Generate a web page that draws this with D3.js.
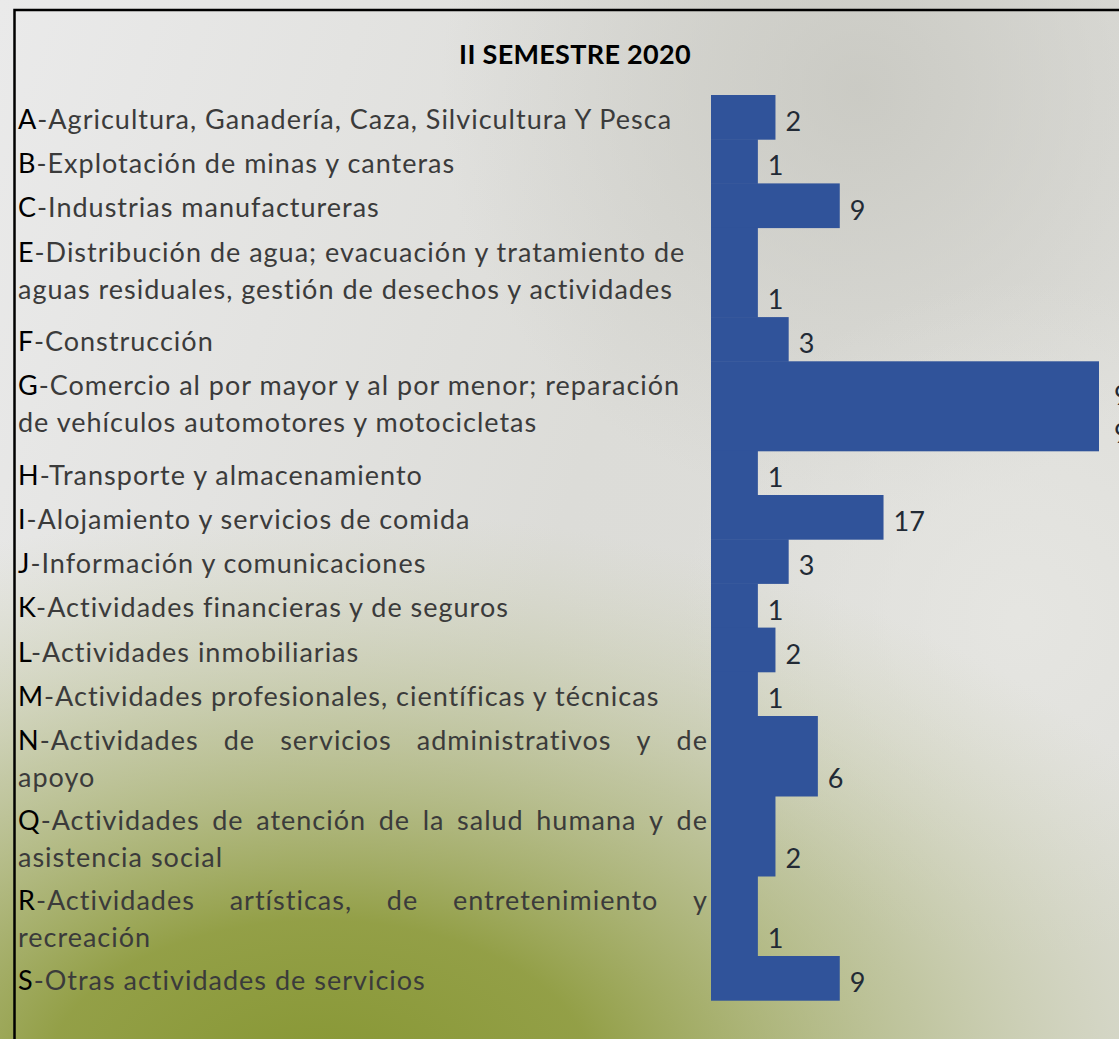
<!DOCTYPE html>
<html>
<head>
<meta charset="utf-8">
<script src="https://cdn.jsdelivr.net/npm/d3@7"></script>
<style>
  body { margin: 0; }
  svg { display: block; }
</style>
</head>
<body>
<svg id="chart" width="1119" height="1039"></svg>
<script>
var title = "II SEMESTRE 2020";

var codes = ["A", "B", "C", "E", "F", "G", "H", "I", "J", "K", "L", "M", "N", "Q", "R", "S"];

var names = [
  ["Agricultura, Ganadería, Caza, Silvicultura Y Pesca"],
  ["Explotación de minas y canteras"],
  ["Industrias manufactureras"],
  ["Distribución de agua; evacuación y tratamiento de", "aguas residuales, gestión de desechos y actividades"],
  ["Construcción"],
  ["Comercio al por mayor y al por menor; reparación", "de vehículos automotores y motocicletas"],
  ["Transporte y almacenamiento"],
  ["Alojamiento y servicios de comida"],
  ["Información y comunicaciones"],
  ["Actividades financieras y de seguros"],
  ["Actividades inmobiliarias"],
  ["Actividades profesionales, científicas y técnicas"],
  ["Actividades de servicios administrativos y de", "apoyo"],
  ["Actividades de atención de la salud humana y de", "asistencia social"],
  ["Actividades artísticas, de entretenimiento y", "recreación"],
  ["Otras actividades de servicios"]
];

var values = [2, 1, 9, 1, 3, 99, 1, 17, 3, 1, 2, 1, 6, 2, 1, 9];

// rows whose first line is justified in the original table
var justified = ["N", "Q", "R"];

var svg = d3.select("#chart"),
  width = +svg.attr("width"),
  height = +svg.attr("height"),
  fontFamily = "Lato, 'Open Sans', sans-serif",
  fontSize = 27,
  textLeft = 18,
  textRight = 708,
  barLeft = 711,
  rowsTop = 95;

// background
var defs = svg.append("defs");

var bg = defs.append("linearGradient").attr("id", "bg")
  .attr("x1", 0).attr("y1", 0).attr("x2", 1).attr("y2", 0.3);
bg.append("stop").attr("offset", 0).attr("stop-color", "#eaeaea");
bg.append("stop").attr("offset", 0.6).attr("stop-color", "#dcdcd8");
bg.append("stop").attr("offset", 1).attr("stop-color", "#dededa");

var grey = defs.append("radialGradient").attr("id", "grey")
  .attr("gradientUnits", "userSpaceOnUse")
  .attr("cx", 860).attr("cy", 90).attr("r", 420);
grey.append("stop").attr("offset", 0).attr("stop-color", "#c6c6bf").attr("stop-opacity", 0.8);
grey.append("stop").attr("offset", 1).attr("stop-color", "#c6c6bf").attr("stop-opacity", 0);

var light = defs.append("radialGradient").attr("id", "light")
  .attr("gradientUnits", "userSpaceOnUse")
  .attr("cx", 1020).attr("cy", 620).attr("r", 340);
light.append("stop").attr("offset", 0).attr("stop-color", "#e6e6e2").attr("stop-opacity", 0.9);
light.append("stop").attr("offset", 1).attr("stop-color", "#e6e6e2").attr("stop-opacity", 0);

var green = defs.append("radialGradient").attr("id", "green")
  .attr("gradientUnits", "userSpaceOnUse")
  .attr("cx", 0).attr("cy", 0).attr("r", 1)
  .attr("gradientTransform", "translate(320,1080) scale(980,570)");
green.append("stop").attr("offset", 0).attr("stop-color", "#879733").attr("stop-opacity", 1);
green.append("stop").attr("offset", 0.28).attr("stop-color", "#8f9c3f").attr("stop-opacity", 0.95);
green.append("stop").attr("offset", 0.62).attr("stop-color", "#a9b272").attr("stop-opacity", 0.55);
green.append("stop").attr("offset", 1).attr("stop-color", "#c8cca8").attr("stop-opacity", 0);

svg.append("rect").attr("width", width).attr("height", height).attr("fill", "url(#bg)");
svg.append("rect").attr("width", width).attr("height", height).attr("fill", "url(#grey)");
svg.append("rect").attr("width", width).attr("height", height).attr("fill", "url(#light)");
svg.append("rect").attr("width", width).attr("height", height).attr("fill", "url(#green)");

// frame
svg.append("path")
  .attr("d", "M14.5," + height + "V10H" + width)
  .attr("fill", "none")
  .attr("stroke", "#000")
  .attr("stroke-width", 2.5);

svg.append("text")
  .attr("x", 575)
  .attr("y", 64)
  .attr("text-anchor", "middle")
  .style("font-family", fontFamily)
  .style("font-weight", "bold")
  .style("font-size", "27px")
  .style("letter-spacing", "0.3px")
  .attr("fill", "#000")
  .text(title);

// rows
var rows = codes.map(function(c, i) {
  return { code: c, lines: names[i], value: values[i], justify: justified.indexOf(c) >= 0 };
});

function rowHeight(d) {
  if (d.lines.length == 1) return 44.2;
  return d.justify ? 80 : 89.5;
}

var y0 = rowsTop;
rows.forEach(function(d) {
  d.y = y0;
  d.h = rowHeight(d);
  y0 += d.h;
});

var x = d3.scalePow().exponent(0.46)
  .domain([0, d3.max(values)])
  .range([0, 388]);

svg.append("g").attr("class", "bars")
  .selectAll("rect")
  .data(rows)
  .enter().append("rect")
  .attr("x", barLeft)
  .attr("y", function(d) { return d.y; })
  .attr("width", function(d) { return x(d.value); })
  .attr("height", function(d) { return d.h + 0.5; })
  .attr("fill", "#30539a");

var labels = svg.append("g").attr("class", "labels")
  .style("font-family", fontFamily)
  .style("font-size", fontSize + "px");

// widen the letters a little so the first label spans the same width as the original
var probeText = codes[0] + "-" + names[0][0];
var probe = labels.append("text").text(probeText);
var spacing = (654 - probe.node().getComputedTextLength()) / probeText.length;
probe.remove();
labels.style("letter-spacing", spacing.toFixed(2) + "px");

function addWord(g, word, code) {
  var t = g.append("text").attr("fill", "#3b3b3b");
  if (code) {
    t.append("tspan").attr("fill", "#000").text(code);
    t.append("tspan").text("-" + word);
  } else {
    t.text(word);
  }
  return t;
}

rows.forEach(function(d) {
  d.lines.forEach(function(line, li) {
    var base = d.y + 34 + li * 37;
    var g = labels.append("g");
    var words = line.split(" ");
    if (d.justify && li < d.lines.length - 1) {
      var items = words.map(function(w, wi) {
        return addWord(g, w, wi == 0 && li == 0 ? d.code : null);
      });
      var widths = items.map(function(t) { return t.node().getComputedTextLength(); });
      var gap = (textRight - textLeft - d3.sum(widths)) / (items.length - 1);
      var cx = textLeft;
      items.forEach(function(t, k) {
        t.attr("x", cx).attr("y", base);
        cx += widths[k] + gap;
      });
    } else {
      addWord(g, line, li == 0 ? d.code : null).attr("x", textLeft).attr("y", base);
    }
  });
});

// value labels
var vals = svg.append("g").attr("class", "values")
  .style("font-family", fontFamily)
  .style("font-size", fontSize + "px")
  .attr("fill", "#222a35");

rows.forEach(function(d) {
  var vx = barLeft + x(d.value) + 10;
  var t = vals.append("text").attr("x", vx).attr("y", d.y + d.h - 8).text(d.value);
  if (vx + t.node().getComputedTextLength() > width) {
    // cell too narrow: digits wrap one per line
    var digits = String(d.value).split("");
    t.text(null);
    digits.forEach(function(ch, k) {
      t.append("tspan")
        .attr("x", vx + 5)
        .attr("y", d.y + d.h - 8 - (digits.length - 1 - k) * 38)
        .text(ch);
    });
  }
});
</script>
</body>
</html>
